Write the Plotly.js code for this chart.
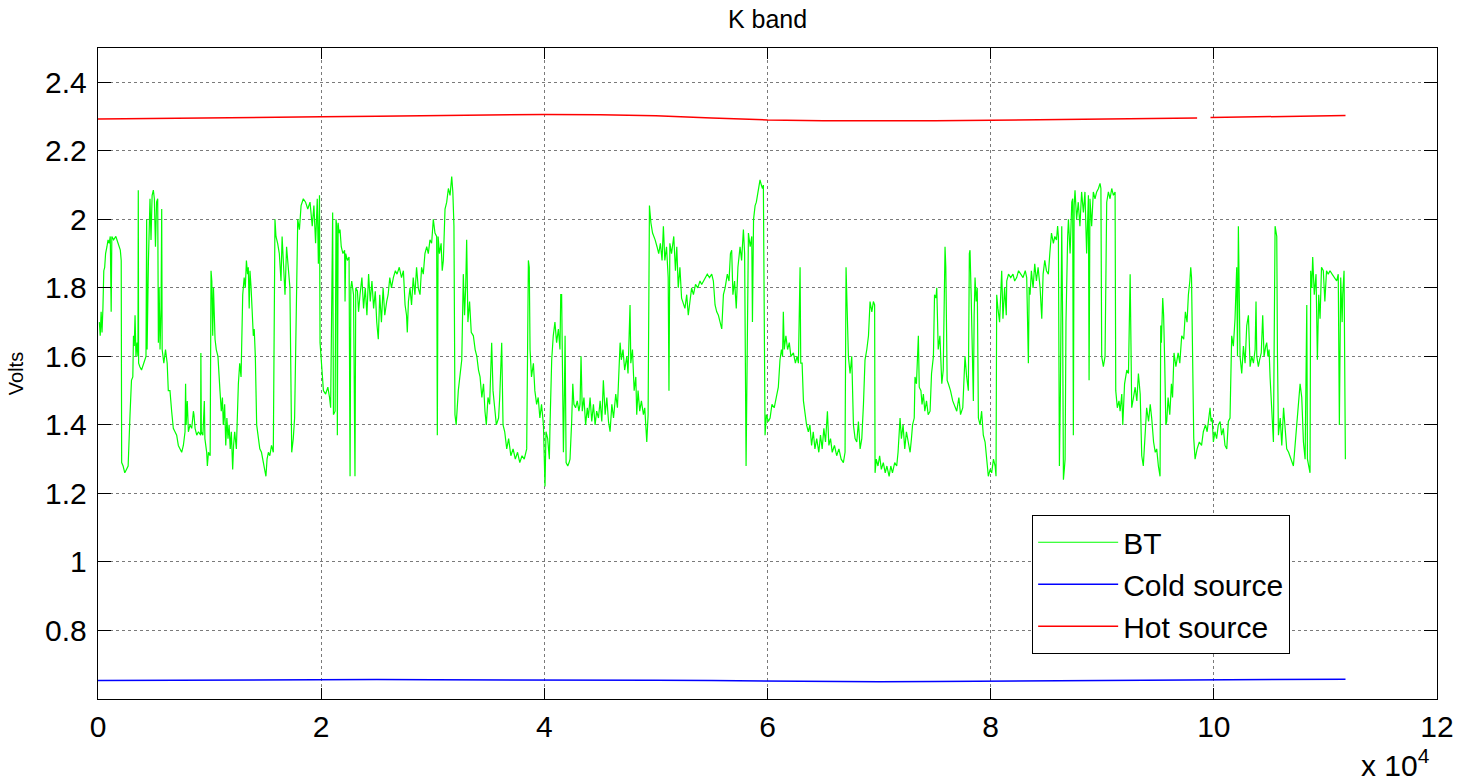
<!DOCTYPE html>
<html>
<head>
<meta charset="utf-8">
<script src="https://cdn.plot.ly/plotly-3.0.1.min.js"></script>
<style>html,body{margin:0;padding:0;background:#fff;}#chart{width:1458px;height:783px;}</style>
</head>
<body>
<div id="chart"></div>
<script>
// x in units of 10^4 samples, y in volts
const btPoints = [
[0.012,1.70],[0.020,1.66],[0.028,1.73],[0.036,1.67],[0.044,1.74],[0.052,1.85],[0.060,1.86],[0.068,1.90],[0.080,1.92],[0.090,1.94],
[0.100,1.93],[0.110,1.95],[0.118,1.73],[0.124,1.95],[0.140,1.94],[0.160,1.95],[0.180,1.93],[0.200,1.91],[0.208,1.88],[0.212,1.29],
[0.225,1.28],[0.240,1.26],[0.255,1.27],[0.270,1.28],[0.287,1.43],[0.300,1.53],[0.312,1.54],[0.318,1.66],[0.325,1.63],[0.332,1.72],
[0.340,1.60],[0.350,1.64],[0.358,1.60],[0.361,2.085],[0.364,1.58],[0.375,1.57],[0.390,1.56],[0.410,1.58],[0.430,1.60],[0.436,2.00],
[0.440,1.62],[0.452,1.88],[0.466,2.06],[0.475,1.94],[0.485,2.07],[0.496,2.085],[0.505,2.06],[0.515,1.92],[0.525,2.05],[0.535,2.06],
[0.541,1.64],[0.548,1.80],[0.556,1.62],[0.565,1.74],[0.571,2.03],[0.575,1.62],[0.590,1.58],[0.605,1.62],[0.620,1.58],[0.630,1.50],
[0.645,1.50],[0.660,1.44],[0.675,1.39],[0.690,1.38],[0.705,1.37],[0.720,1.34],[0.735,1.33],[0.750,1.32],[0.765,1.34],[0.780,1.38],
[0.785,1.52],[0.790,1.40],[0.800,1.47],[0.810,1.38],[0.825,1.40],[0.840,1.39],[0.855,1.44],[0.860,1.43],[0.870,1.39],[0.885,1.37],
[0.900,1.38],[0.920,1.37],[0.922,1.61],[0.926,1.38],[0.940,1.37],[0.953,1.47],[0.958,1.36],[0.974,1.32],[0.980,1.28],[0.990,1.32],
[1.005,1.31],[1.013,1.85],[1.020,1.82],[1.028,1.66],[1.035,1.80],[1.042,1.72],[1.049,1.65],[1.060,1.62],[1.075,1.60],[1.093,1.50],
[1.105,1.44],[1.115,1.48],[1.123,1.40],[1.135,1.46],[1.145,1.34],[1.155,1.42],[1.165,1.36],[1.175,1.40],[1.185,1.33],[1.195,1.38],
[1.207,1.27],[1.215,1.34],[1.225,1.38],[1.240,1.33],[1.250,1.48],[1.258,1.52],[1.270,1.58],[1.282,1.54],[1.297,1.78],[1.310,1.83],
[1.320,1.80],[1.330,1.88],[1.340,1.84],[1.347,1.86],[1.355,1.74],[1.362,1.85],[1.372,1.80],[1.380,1.72],[1.392,1.66],[1.400,1.68],
[1.410,1.60],[1.422,1.40],[1.435,1.36],[1.450,1.33],[1.465,1.32],[1.482,1.29],[1.495,1.26],[1.505,1.25],[1.515,1.30],[1.527,1.32],
[1.540,1.31],[1.555,1.34],[1.571,1.32],[1.586,2.00],[1.595,1.95],[1.610,1.93],[1.625,1.90],[1.640,1.82],[1.650,1.95],[1.660,1.88],
[1.676,1.78],[1.690,1.92],[1.705,1.85],[1.720,1.80],[1.736,1.32],[1.750,1.36],[1.762,1.42],[1.780,1.85],[1.790,2.00],[1.805,1.97],
[1.820,2.04],[1.840,2.06],[1.860,2.05],[1.880,2.03],[1.900,2.05],[1.920,1.98],[1.935,2.04],[1.950,1.93],[1.965,2.06],[1.975,1.87],
[1.985,2.07],[1.990,1.64],[2.005,1.56],[2.020,1.50],[2.040,1.49],[2.060,1.51],[2.075,1.48],[2.085,1.45],[2.103,2.02],[2.110,1.43],
[2.125,1.44],[2.133,2.00],[2.140,1.98],[2.145,1.37],[2.152,1.99],[2.160,1.96],[2.169,1.97],[2.180,1.92],[2.195,1.90],[2.210,1.91],
[2.214,1.76],[2.220,1.90],[2.235,1.88],[2.250,1.89],[2.259,1.25],[2.266,1.80],[2.274,1.82],[2.290,1.78],[2.303,1.25],[2.310,1.80],
[2.325,1.79],[2.335,1.73],[2.348,1.78],[2.365,1.83],[2.380,1.74],[2.395,1.80],[2.410,1.72],[2.425,1.84],[2.440,1.76],[2.455,1.82],
[2.470,1.74],[2.485,1.79],[2.498,1.70],[2.512,1.65],[2.525,1.78],[2.540,1.70],[2.555,1.80],[2.570,1.72],[2.587,1.76],[2.600,1.78],
[2.615,1.83],[2.630,1.80],[2.647,1.83],[2.665,1.85],[2.680,1.84],[2.700,1.86],[2.720,1.83],[2.737,1.85],[2.752,1.75],[2.765,1.72],
[2.772,1.67],[2.782,1.76],[2.796,1.80],[2.810,1.75],[2.825,1.83],[2.840,1.78],[2.855,1.86],[2.870,1.80],[2.886,1.78],[2.900,1.86],
[2.915,1.84],[2.930,1.90],[2.946,1.92],[2.960,1.90],[2.975,1.94],[2.990,1.93],[3.005,2.00],[3.020,1.96],[3.035,1.95],[3.041,1.37],
[3.048,1.95],[3.060,1.90],[3.075,1.93],[3.085,1.85],[3.095,1.88],[3.110,2.03],[3.125,2.05],[3.140,2.09],[3.155,2.07],[3.170,2.125],
[3.180,2.08],[3.190,1.98],[3.199,1.43],[3.210,1.40],[3.229,1.50],[3.245,1.55],[3.260,1.59],[3.274,1.84],[3.285,1.72],[3.295,1.80],
[3.304,1.94],[3.315,1.70],[3.330,1.76],[3.345,1.67],[3.364,1.66],[3.380,1.62],[3.395,1.60],[3.410,1.56],[3.424,1.54],[3.440,1.48],
[3.455,1.52],[3.468,1.44],[3.480,1.40],[3.495,1.48],[3.510,1.46],[3.528,1.64],[3.540,1.50],[3.555,1.45],[3.570,1.40],[3.590,1.42],
[3.600,1.48],[3.618,1.64],[3.630,1.40],[3.645,1.38],[3.663,1.33],[3.680,1.36],[3.700,1.31],[3.720,1.33],[3.740,1.30],[3.760,1.32],
[3.780,1.29],[3.800,1.31],[3.820,1.30],[3.842,1.33],[3.857,1.88],[3.865,1.86],[3.872,1.62],[3.885,1.54],[3.902,1.58],[3.915,1.50],
[3.931,1.46],[3.945,1.48],[3.960,1.42],[3.975,1.46],[3.992,1.40],[4.006,1.22],[4.015,1.38],[4.030,1.36],[4.045,1.30],[4.051,1.40],
[4.066,1.59],[4.080,1.66],[4.095,1.70],[4.110,1.64],[4.126,1.68],[4.140,1.62],[4.147,1.78],[4.155,1.78],[4.162,1.44],[4.171,1.32],
[4.180,1.50],[4.186,1.66],[4.195,1.29],[4.210,1.28],[4.222,1.29],[4.230,1.30],[4.245,1.41],[4.255,1.52],[4.265,1.46],[4.280,1.45],
[4.295,1.47],[4.310,1.44],[4.320,1.46],[4.329,1.60],[4.340,1.44],[4.355,1.48],[4.370,1.40],[4.385,1.45],[4.395,1.42],[4.410,1.48],
[4.425,1.41],[4.440,1.46],[4.455,1.40],[4.469,1.44],[4.485,1.42],[4.500,1.47],[4.515,1.41],[4.529,1.53],[4.545,1.43],[4.560,1.48],
[4.575,1.41],[4.589,1.38],[4.605,1.46],[4.620,1.42],[4.640,1.49],[4.655,1.45],[4.664,1.52],[4.679,1.64],[4.690,1.59],[4.705,1.62],
[4.720,1.56],[4.739,1.60],[4.750,1.55],[4.768,1.75],[4.775,1.58],[4.790,1.62],[4.805,1.50],[4.820,1.54],[4.828,1.43],[4.840,1.50],
[4.855,1.44],[4.870,1.47],[4.888,1.43],[4.900,1.45],[4.918,1.35],[4.930,1.43],[4.942,2.04],[4.955,1.99],[4.970,1.96],[4.985,1.95],
[4.993,1.94],[5.010,1.92],[5.025,1.90],[5.040,1.93],[5.055,1.88],[5.067,1.98],[5.080,1.88],[5.095,1.92],[5.110,1.83],[5.117,1.50],
[5.125,1.93],[5.140,1.90],[5.160,1.95],[5.175,1.85],[5.187,1.92],[5.200,1.80],[5.215,1.86],[5.230,1.77],[5.246,1.75],[5.260,1.74],
[5.276,1.78],[5.290,1.72],[5.305,1.76],[5.320,1.80],[5.336,1.78],[5.355,1.81],[5.375,1.80],[5.395,1.82],[5.410,1.81],[5.426,1.82],
[5.445,1.83],[5.460,1.84],[5.480,1.83],[5.500,1.84],[5.515,1.82],[5.530,1.75],[5.545,1.73],[5.560,1.72],[5.575,1.70],[5.590,1.68],
[5.605,1.78],[5.620,1.80],[5.640,1.84],[5.655,1.82],[5.668,1.90],[5.679,1.91],[5.690,1.78],[5.705,1.82],[5.720,1.74],[5.735,1.86],
[5.754,1.92],[5.768,1.88],[5.784,1.97],[5.795,1.90],[5.808,1.28],[5.815,1.50],[5.829,1.96],[5.845,1.92],[5.859,1.95],[5.865,1.70],
[5.875,2.00],[5.889,2.04],[5.900,2.05],[5.915,2.08],[5.933,2.115],[5.945,2.10],[5.955,2.09],[5.963,2.10],[5.978,1.37],[5.990,1.43],
[6.008,1.41],[6.023,1.42],[6.040,1.46],[6.060,1.45],[6.082,1.49],[6.097,1.51],[6.112,1.59],[6.125,1.62],[6.135,1.60],[6.142,1.73],
[6.150,1.62],[6.165,1.66],[6.180,1.62],[6.195,1.64],[6.210,1.60],[6.232,1.61],[6.250,1.58],[6.265,1.60],[6.277,1.58],[6.285,1.74],
[6.292,1.86],[6.298,1.58],[6.310,1.58],[6.322,1.47],[6.335,1.44],[6.350,1.40],[6.366,1.38],[6.380,1.40],[6.395,1.34],[6.410,1.38],
[6.425,1.33],[6.441,1.36],[6.460,1.32],[6.475,1.37],[6.490,1.33],[6.505,1.39],[6.520,1.35],[6.537,1.44],[6.550,1.34],[6.565,1.36],
[6.580,1.32],[6.600,1.34],[6.620,1.31],[6.640,1.33],[6.660,1.30],[6.680,1.29],[6.695,1.32],[6.704,1.86],[6.712,1.76],[6.725,1.60],
[6.740,1.55],[6.755,1.60],[6.770,1.40],[6.785,1.36],[6.800,1.35],[6.815,1.41],[6.830,1.33],[6.845,1.36],[6.860,1.46],[6.874,1.59],
[6.890,1.62],[6.905,1.66],[6.919,1.76],[6.935,1.73],[6.949,1.76],[6.960,1.75],[6.964,1.26],[6.975,1.30],[6.990,1.28],[7.005,1.31],
[7.020,1.27],[7.038,1.29],[7.055,1.26],[7.070,1.28],[7.090,1.25],[7.105,1.28],[7.120,1.26],[7.140,1.29],[7.158,1.28],[7.170,1.32],
[7.188,1.42],[7.200,1.36],[7.215,1.40],[7.230,1.33],[7.245,1.38],[7.260,1.35],[7.278,1.32],[7.290,1.36],[7.300,1.40],[7.315,1.42],
[7.322,1.54],[7.335,1.52],[7.352,1.66],[7.360,1.51],[7.375,1.50],[7.385,1.46],[7.397,1.49],[7.410,1.44],[7.425,1.47],[7.440,1.43],
[7.457,1.44],[7.470,1.55],[7.487,1.60],[7.497,1.78],[7.510,1.77],[7.517,1.80],[7.530,1.62],[7.545,1.66],[7.562,1.52],[7.575,1.56],
[7.591,1.92],[7.598,1.86],[7.610,1.53],[7.621,1.52],[7.640,1.50],[7.660,1.47],[7.680,1.45],[7.696,1.44],[7.715,1.48],[7.730,1.43],
[7.750,1.45],[7.770,1.60],[7.785,1.54],[7.800,1.50],[7.809,1.90],[7.815,1.91],[7.825,1.78],[7.835,1.65],[7.845,1.47],[7.852,1.72],
[7.860,1.83],[7.870,1.76],[7.880,1.80],[7.890,1.42],[7.905,1.40],[7.919,1.44],[7.934,1.37],[7.950,1.35],[7.964,1.31],[7.979,1.25],
[7.995,1.27],[8.009,1.26],[8.025,1.30],[8.040,1.28],[8.048,1.25],[8.054,1.78],[8.065,1.74],[8.080,1.70],[8.090,1.78],[8.099,1.85],
[8.110,1.71],[8.125,1.80],[8.140,1.72],[8.144,1.82],[8.160,1.84],[8.180,1.83],[8.200,1.84],[8.215,1.82],[8.233,1.83],[8.250,1.85],
[8.270,1.84],[8.290,1.83],[8.310,1.85],[8.323,1.83],[8.338,1.58],[8.345,1.80],[8.353,1.78],[8.365,1.85],[8.380,1.80],[8.395,1.87],
[8.410,1.82],[8.425,1.86],[8.443,1.80],[8.458,1.71],[8.470,1.84],[8.485,1.88],[8.500,1.85],[8.517,1.84],[8.530,1.90],[8.545,1.96],
[8.562,1.93],[8.575,1.95],[8.590,1.94],[8.600,1.98],[8.607,1.95],[8.616,1.28],[8.625,1.50],[8.637,1.98],[8.645,1.70],[8.652,1.24],
[8.660,1.27],[8.667,1.30],[8.675,1.70],[8.682,1.85],[8.690,1.95],[8.697,2.00],[8.712,1.90],[8.727,2.05],[8.735,2.06],[8.741,1.37],
[8.748,2.04],[8.756,2.085],[8.770,2.00],[8.785,2.05],[8.800,1.98],[8.815,2.08],[8.831,2.02],[8.845,2.08],[8.860,1.90],[8.876,2.07],
[8.882,1.53],[8.890,2.06],[8.905,1.98],[8.920,2.08],[8.935,2.06],[8.950,2.08],[8.966,2.09],[8.980,2.105],[8.988,2.09],[8.995,1.60],
[9.010,1.57],[9.025,1.60],[9.040,2.05],[9.055,2.08],[9.070,2.06],[9.085,2.09],[9.100,2.07],[9.115,2.08],[9.121,1.50],[9.135,1.45],
[9.150,1.47],[9.160,1.44],[9.175,1.49],[9.184,1.40],[9.200,1.52],[9.220,1.56],[9.235,1.55],[9.250,1.84],[9.257,1.60],[9.264,1.45],
[9.280,1.48],[9.295,1.51],[9.310,1.47],[9.324,1.55],[9.340,1.49],[9.354,1.31],[9.368,1.28],[9.383,1.36],[9.398,1.45],[9.415,1.41],
[9.430,1.46],[9.443,1.42],[9.460,1.35],[9.475,1.32],[9.488,1.33],[9.503,1.28],[9.518,1.25],[9.524,1.69],[9.530,1.64],[9.542,1.77],
[9.550,1.72],[9.560,1.58],[9.570,1.40],[9.578,1.41],[9.590,1.48],[9.605,1.43],[9.620,1.52],[9.630,1.48],[9.643,1.61],[9.660,1.57],
[9.680,1.61],[9.695,1.58],[9.712,1.66],[9.730,1.65],[9.745,1.73],[9.760,1.70],[9.772,1.78],[9.785,1.82],[9.793,1.86],[9.800,1.83],
[9.811,1.52],[9.820,1.36],[9.832,1.30],[9.850,1.33],[9.870,1.35],[9.890,1.34],[9.906,1.38],[9.925,1.40],[9.940,1.38],[9.951,1.42],
[9.966,1.45],[9.975,1.41],[9.985,1.42],[9.996,1.35],[10.010,1.38],[10.025,1.36],[10.040,1.40],[10.056,1.41],[10.070,1.37],[10.085,1.39],
[10.100,1.34],[10.116,1.33],[10.130,1.41],[10.145,1.42],[10.151,1.59],[10.160,1.66],[10.175,1.63],[10.190,1.71],[10.205,1.86],[10.212,1.60],
[10.220,1.98],[10.228,1.62],[10.235,1.60],[10.250,1.55],[10.265,1.63],[10.280,1.58],[10.295,1.69],[10.310,1.72],[10.318,1.59],[10.325,1.57],
[10.340,1.60],[10.355,1.58],[10.370,1.62],[10.378,1.76],[10.385,1.60],[10.399,1.57],[10.410,1.59],[10.425,1.61],[10.438,1.72],[10.450,1.60],
[10.465,1.63],[10.474,1.64],[10.485,1.60],[10.495,1.62],[10.504,1.54],[10.519,1.45],[10.534,1.35],[10.549,1.98],[10.556,1.96],[10.564,1.95],
[10.570,1.61],[10.579,1.37],[10.595,1.42],[10.609,1.34],[10.625,1.45],[10.638,1.40],[10.653,1.33],[10.670,1.32],[10.690,1.30],[10.713,1.28],
[10.728,1.34],[10.743,1.41],[10.758,1.48],[10.773,1.52],[10.788,1.48],[10.803,1.35],[10.818,1.30],[10.833,1.75],[10.839,1.30],[10.850,1.28],
[10.862,1.26],[10.868,1.85],[10.878,1.80],[10.886,1.89],[10.900,1.78],[10.916,1.84],[10.928,1.59],[10.940,1.78],[10.952,1.71],[10.965,1.86],
[10.981,1.85],[10.995,1.76],[11.010,1.85],[11.025,1.84],[11.041,1.85],[11.060,1.84],[11.080,1.83],[11.101,1.82],[11.115,1.84],[11.125,1.40],
[11.137,1.83],[11.150,1.70],[11.155,1.78],[11.167,1.85],[11.179,1.30]
];
const btX = btPoints.map(p => p[0]);
const btY = btPoints.map(p => p[1]);

const coldX = [0, 0.5, 1.0, 1.5, 2.0, 2.5, 3.0, 3.5, 4.0, 4.5, 5.0, 5.5, 6.0, 6.5, 7.0, 7.5, 8.0, 8.5, 9.0, 9.5, 10.0, 10.5, 11.0, 11.18];
const coldY = [0.654, 0.655, 0.654, 0.655, 0.657, 0.657, 0.656, 0.656, 0.656, 0.657, 0.655, 0.654, 0.652, 0.651, 0.650, 0.651, 0.652, 0.653, 0.654, 0.655, 0.656, 0.657, 0.657, 0.658];

const hotX = [0, 0.5, 1.0, 1.5, 2.0, 2.5, 3.0, 3.5, 4.0, 4.5, 5.0, 5.5, 6.0, 6.5, 7.0, 7.5, 8.0, 8.5, 9.0, 9.5, 9.85, 9.86, 9.97, 10.5, 11.0, 11.18];
const hotY = [2.293, 2.294, 2.296, 2.297, 2.299, 2.301, 2.303, 2.304, 2.306, 2.305, 2.302, 2.296, 2.290, 2.288, 2.287, 2.288, 2.289, 2.291, 2.293, 2.295, 2.296, null, 2.297, 2.300, 2.302, 2.303];

const xTickVals = [0, 2, 4, 6, 8, 10, 12];
const yTickVals = [0.8, 1.0, 1.2, 1.4, 1.6, 1.8, 2.0, 2.2, 2.4];
const yTickText = ['0.8', '1', '1.2', '1.4', '1.6', '1.8', '2', '2.2', '2.4'];

const FONT = 'Liberation Sans, Arial, sans-serif';

const traces = [
  {x: btX, y: btY, type: 'scatter', mode: 'lines', name: 'BT', line: {color: '#00ff00', width: 1.2}},
  {x: coldX, y: coldY, type: 'scatter', mode: 'lines', name: 'Cold source', line: {color: '#0000ff', width: 1.5}},
  {x: hotX, y: hotY, type: 'scatter', mode: 'lines', name: 'Hot source', line: {color: '#ff0000', width: 1.5}}
];

const axisCommon = {
  showline: true, linecolor: '#000', linewidth: 1.2, mirror: 'ticks',
  ticks: 'inside', tickcolor: '#000', tickwidth: 1,
  showgrid: true, gridcolor: '#7a7a7a', griddash: 'dot', gridwidth: 1,
  zeroline: false,
  tickfont: {family: FONT, size: 30, color: '#000'}
};

const layout = {
  width: 1458, height: 783,
  margin: {l: 98, r: 21, t: 48, b: 84},
  paper_bgcolor: '#fff', plot_bgcolor: '#fff',
  font: {family: FONT, color: '#000'},
  title: {text: 'K band', font: {family: FONT, size: 25, color: '#000'}, x: 0.5, xref: 'paper', xanchor: 'center', y: 0.976, yref: 'container', yanchor: 'middle'},
  xaxis: Object.assign({}, axisCommon, {
    range: [0, 12], tickvals: xTickVals, ticktext: xTickVals.map(String), ticklen: 11, ticklabelstandoff: 1
  }),
  yaxis: Object.assign({}, axisCommon, {
    range: [0.6, 2.5], tickvals: yTickVals, ticktext: yTickText, ticklen: 13, ticklabelstandoff: 4,
    title: {text: 'Volts', font: {family: FONT, size: 20, color: '#000'}, standoff: 16}
  }),
  showlegend: true,
  legend: {
    x: 0.6975, y: 0.2826, xanchor: 'left', yanchor: 'top', xref: 'paper', yref: 'paper',
    bgcolor: '#fff', bordercolor: '#000', borderwidth: 1.2,
    font: {family: FONT, size: 30, color: '#000'},
    itemwidth: 80, tracegroupgap: 0
  },
  annotations: [{
    text: 'x 10<sup>4</sup>', xref: 'paper', yref: 'paper', x: 0.969, y: -0.098,
    xanchor: 'center', yanchor: 'middle', showarrow: false,
    font: {family: FONT, size: 30, color: '#000'}
  }]
};

Plotly.newPlot('chart', traces, layout, {displayModeBar: false, staticPlot: true});
</script>
</body>
</html>
